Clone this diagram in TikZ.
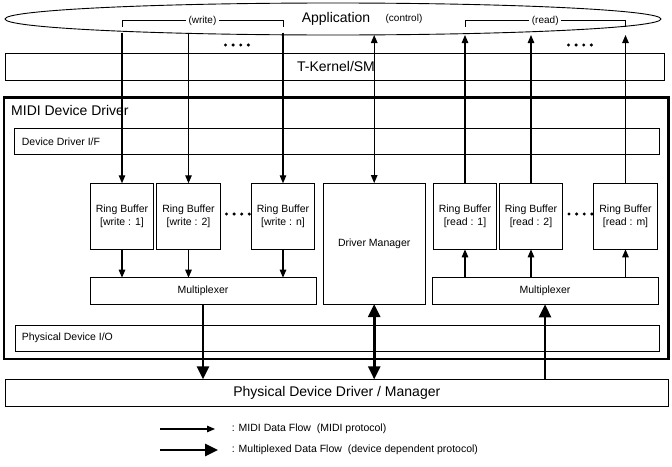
\documentclass[tikz,border=0pt]{standalone}
\usepackage{fontspec}
\setmainfont{Liberation Sans}
\usetikzlibrary{arrows.meta,shapes.geometric,calc}
\begin{document}
\begin{tikzpicture}[x=1pt,y=-1pt,
  box/.style={draw, line width=0.9pt, inner sep=0pt, outer sep=0pt, align=center,
    font=\fontsize{10.5}{13.5}\selectfont},
  rb/.style={box, minimum width=63.5pt, minimum height=66pt},
  big/.style={inner sep=0pt, font=\fontsize{14}{16}\selectfont},
  small/.style={inner sep=0pt, font=\fontsize{10.5}{12.5}\selectfont},
  tiny/.style={inner sep=0pt, font=\fontsize{10}{12}\selectfont},
  thintip/.tip={Triangle[length=8pt,width=6.5pt]},
  thicktip/.tip={Triangle[length=13pt,width=12pt]},
  flow/.style={line width=1.1pt, -thintip},
  mflow/.style={line width=2.6pt, -thicktip},
  dotfill/.style={fill=black}
]
\useasboundingbox (0,0) rectangle (672,466);

% Application ellipse
\node[draw, ellipse, line width=0.9pt, minimum width=656pt, minimum height=32pt, inner sep=0pt] (app) at (333,19) {};
\node[big] (apptext) at (336,18.5) {Application};
\node[tiny] (ctrl) at (404,18.5) {(control)};

% T-Kernel/SM
\node[box, minimum width=659pt, minimum height=26.7pt] (tk) at (334.5,66.7) {};
\node[big] (tktext) at (336,66.7) {T-Kernel/SM};

% MIDI Device Driver frame
\node[draw, line width=2.6pt, inner sep=0pt, minimum width=664.5pt, minimum height=261.5pt] (midi) at (336.25,228.25) {};
\node[big, anchor=west] (miditext) at (11,110) {MIDI Device Driver};

% Device Driver I/F
\node[box, minimum width=644.6pt, minimum height=26pt] (ddif) at (337,141.3) {};
\node[small, anchor=west] (ddiftext) at (21.7,141.3) {Device Driver I/F};

% Write ring buffers
\node[rb] (rbw1) at (122,216.3) {Ring Buffer\\{}[write : 1]};
\node[rb] (rbw2) at (188.5,216.3) {Ring Buffer\\{}[write : 2]};
\node[rb] (rbwn) at (283,216.3) {Ring Buffer\\{}[write : n]};

% Driver Manager
\node[box, minimum width=101.7pt, minimum height=121pt] (dm) at (374.2,243.6) {Driver Manager};

% Read ring buffers
\node[rb] (rbr1) at (465,216.3) {Ring Buffer\\{}[read : 1]};
\node[rb] (rbr2) at (531,216.3) {Ring Buffer\\{}[read : 2]};
\node[rb] (rbrm) at (625.5,216.3) {Ring Buffer\\{}[read : m]};

% Multiplexers
\node[box, minimum width=226pt, minimum height=26.6pt] (mxl) at (203,291) {Multiplexer};
\node[box, minimum width=226pt, minimum height=26.6pt] (mxr) at (545,291) {Multiplexer};

% Physical Device I/O
\node[box, minimum width=644.3pt, minimum height=25.3pt] (pdio) at (337.1,338.4) {};
\node[small, anchor=west] (pdiotext) at (21.7,338.2) {Physical Device I/O};

% Physical Device Driver / Manager
\node[box, minimum width=663.7pt, minimum height=26.7pt, font=\fontsize{14}{16}\selectfont] (pdd) at (336.8,392.7) {Physical Device Driver / Manager};

% helper coordinates
\coordinate (brkt) at (0,20.7);
\coordinate (brkb) at (0,27);
\coordinate (appw) at (0,32.5);
\coordinate (appr) at (0,35);

% brackets
\draw[line width=0.9pt] (rbw1.north |- brkb) -- (rbw1.north |- brkt) -- (rbwn.north |- brkt) -- (rbwn.north |- brkb);
\node[tiny, fill=white, inner xsep=2.5pt, inner ysep=1pt] (wlab) at ($(rbw1.north |- brkt)!0.5!(rbwn.north |- brkt)$) {(write)};
\draw[line width=0.9pt] (rbr1.north |- brkb) -- (rbr1.north |- brkt) -- (rbrm.north |- brkt) -- (rbrm.north |- brkb);
\node[tiny, fill=white, inner xsep=2.5pt, inner ysep=1pt] (rlab) at ($(rbr1.north |- brkt)!0.5!(rbrm.north |- brkt)$) {(read)};

% write flows
\foreach \n in {rbw1,rbw2,rbwn}{
  \draw[flow] (\n.north |- appw) -- (\n.north);
  \draw[flow] (\n.south) -- (\n.south |- mxl.north);
}
% read flows
\foreach \n in {rbr1,rbr2,rbrm}{
  \draw[flow] (\n.north) -- (\n.north |- appr);
  \draw[flow] (\n.south |- mxr.north) -- (\n.south);
}
% control
\draw[line width=1.1pt, thintip-thintip] (dm.north) -- (dm.north |- appr);

% multiplexed flows
\draw[mflow] (mxl.south) -- (mxl.south |- pdd.north);
\draw[line width=2.6pt, thicktip-thicktip] (dm.south) -- (dm.south |- pdd.north);
\draw[mflow] (mxr.south |- pdd.north) -- (mxr.south);

% dots
\foreach \x in {0,7.6,15.2,22.8}{
  \fill[dotfill] (225.5+\x,45) circle (1.7);
  \fill[dotfill] (568.5+\x,45) circle (1.7);
  \fill[dotfill] (226.5+\x,214) circle (1.7);
  \fill[dotfill] (569+\x,214) circle (1.7);
}

% legend
\coordinate (l1a) at (160,429);
\coordinate (l1b) at (215,429);
\coordinate (l2a) at (160,450);
\coordinate (l2b) at (218,450);
\draw[flow] (l1a) -- (l1b);
\draw[mflow] (l2a) -- (l2b);
\node[small, anchor=west] (lt1) at (231.7,429) {: MIDI Data Flow\ \ (MIDI protocol)};
\node[small, anchor=west] (lt2) at (231.7,450) {: Multiplexed Data Flow\ \ (device dependent protocol)};
\end{tikzpicture}
\end{document}
